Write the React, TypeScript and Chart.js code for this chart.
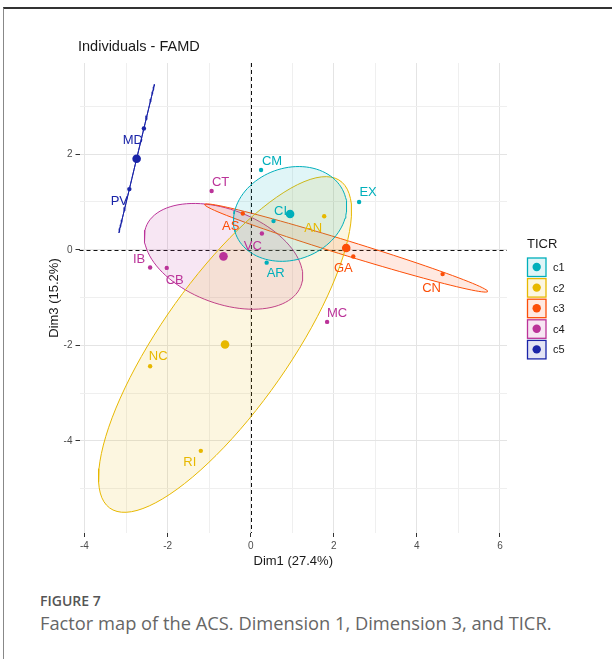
import React, { useEffect, useRef } from 'react';
import { Chart, registerables } from 'chart.js';

Chart.register(...registerables);

// ---------- data ----------
const groups = ['c1', 'c2', 'c3', 'c4', 'c5'];
const groupColors = ['#00AFBB', '#E7B800', '#FC4E07', '#BB3399', '#1A24A8'];

const individuals = ['CM', 'EX', 'AR', 'CI', 'AN', 'NC', 'RI', 'AS', 'GA', 'CN', 'CT', 'VC', 'IB', 'CB', 'MC', 'MD', 'PV'];
const dim1 = [0.25, 2.61, 0.385, 0.55, 1.77, -2.42, -1.2, -0.19, 2.47, 4.62, -0.94, 0.27, -2.42, -2.02, 1.84, -2.57, -2.92];
const dim3 = [1.67, 1.0, -0.27, 0.6, 0.7, -2.44, -4.21, 0.76, -0.14, -0.51, 1.23, 0.34, -0.37, -0.38, -1.51, 2.54, 1.27];
const ticr = ['c1', 'c1', 'c1', 'c1', 'c2', 'c2', 'c2', 'c3', 'c3', 'c3', 'c4', 'c4', 'c4', 'c4', 'c4', 'c5', 'c5'];

const xTicks = [-4, -3, -2, -1, 0, 1, 2, 3, 4, 5, 6];
const yTicks = [-5, -4, -3, -2, -1, 0, 1, 2, 3];

const chartTitle = 'Individuals - FAMD';
const xTitle = 'Dim1 (27.4%)';
const yTitle = 'Dim3 (15.2%)';
const legendTitle = 'TICR';
const figureLabel = 'FIGURE 7';
const captionText = 'Factor map of the ACS. Dimension 1, Dimension 3, and TICR.';

// ---------- label placement (pixel offsets, style only) ----------
const labelOffsets: Record<string, [number, number]> = {
  CM: [11, -9], EX: [9, -10], AR: [9, 11], CI: [7, -10], AN: [-11, 12], NC: [8, -10], RI: [-11, 12],
  AS: [-12, 13], GA: [-10, 12], CN: [-11, 14], CT: [9, -9], VC: [-9, 13], IB: [-11, -8], CB: [8, 13],
  MC: [10, -8], MD: [-11, 12], PV: [-10, 12],
};

const FONT = "'Liberation Sans', Arial, sans-serif";

function hexA(hex: string, a: number) {
  const n = parseInt(hex.slice(1), 16);
  return `rgba(${(n >> 16) & 255},${(n >> 8) & 255},${n & 255},${a})`;
}

function mean(a: number[]) {
  return a.reduce((s, v) => s + v, 0) / a.length;
}

// confidence ellipse (as in ggpubr stat_conf_ellipse)
function confEllipse(xs: number[], ys: number[], level = 0.95, npoints = 100) {
  const m = xs.length;
  const cx = mean(xs);
  const cy = mean(ys);
  let vx = 0, vy = 0, cxy = 0;
  for (let i = 0; i < m; i++) {
    vx += (xs[i] - cx) ** 2;
    vy += (ys[i] - cy) ** 2;
    cxy += (xs[i] - cx) * (ys[i] - cy);
  }
  vx /= m - 1; vy /= m - 1; cxy /= m - 1;
  const sx = Math.sqrt(vx);
  const sy = Math.sqrt(vy);
  let r = cxy / (sx * sy);
  r = Math.min(Math.max(r, -1), 1);
  const d = Math.acos(r);
  const chi2 = -2 * Math.log(1 - level);
  const t = Math.sqrt(chi2 / m);
  const pts: { x: number; y: number }[] = [];
  for (let i = 0; i < npoints; i++) {
    const a = (2 * Math.PI * i) / (npoints - 1);
    pts.push({ x: t * sx * Math.cos(a + d / 2) + cx, y: t * sy * Math.cos(a - d / 2) + cy });
  }
  return pts;
}

const isEven = (v: number) => Math.abs(Math.round(v)) % 2 === 0;

export default function App() {
  const ref = useRef<HTMLCanvasElement | null>(null);

  useEffect(() => {
    if (!ref.current) return;
    const datasets: any[] = [];
    groups.forEach((g, gi) => {
      const color = groupColors[gi];
      const idx = ticr.map((t, i) => (t === g ? i : -1)).filter((i) => i >= 0);
      const xs = idx.map((i) => dim1[i]);
      const ys = idx.map((i) => dim3[i]);
      datasets.push({
        label: g + ' mean',
        data: [{ x: mean(xs), y: mean(ys) }],
        pointRadius: 4.3,
        backgroundColor: color,
        borderColor: color,
        borderWidth: 0,
        order: 0,
      });
      datasets.push({
        label: g,
        data: idx.map((i) => ({ x: dim1[i], y: dim3[i], name: individuals[i] })),
        pointRadius: 2.2,
        backgroundColor: color,
        borderColor: color,
        borderWidth: 0,
        order: 1,
      });
      datasets.push({
        label: g + ' ellipse',
        data: confEllipse(xs, ys),
        showLine: true,
        fill: 'shape',
        tension: 0,
        backgroundColor: hexA(color, 0.12),
        borderColor: color,
        borderWidth: 1,
        pointRadius: 0,
        order: 2,
      });
    });

    const annot = {
      id: 'annot',
      beforeDatasetsDraw(chart: any) {
        const { ctx, chartArea, scales } = chart;
        const x0 = Math.round(scales.x.getPixelForValue(0)) + 0.5;
        const y0 = Math.round(scales.y.getPixelForValue(0)) + 0.5;
        ctx.save();
        ctx.strokeStyle = '#111';
        ctx.lineWidth = 1;
        ctx.setLineDash([4, 3]);
        ctx.beginPath();
        ctx.moveTo(x0, chartArea.top);
        ctx.lineTo(x0, chartArea.bottom);
        ctx.moveTo(chartArea.left, y0);
        ctx.lineTo(chartArea.right, y0);
        ctx.stroke();
        ctx.restore();
      },
      afterDatasetsDraw(chart: any) {
        const { ctx, scales } = chart;
        ctx.save();
        ctx.font = `13px ${FONT}`;
        ctx.textAlign = 'center';
        ctx.textBaseline = 'middle';
        individuals.forEach((name, i) => {
          const gi = groups.indexOf(ticr[i]);
          const off = labelOffsets[name] || [0, -10];
          const px = scales.x.getPixelForValue(dim1[i]) + off[0];
          const py = scales.y.getPixelForValue(dim3[i]) + off[1];
          ctx.fillStyle = groupColors[gi];
          ctx.fillText(name, px, py);
        });
        ctx.restore();
      },
      afterDraw(chart: any) {
        const { ctx } = chart;
        ctx.save();
        ctx.fillStyle = '#1a1a1a';
        ctx.font = `14.5px ${FONT}`;
        ctx.textAlign = 'left';
        ctx.textBaseline = 'middle';
        ctx.fillText(chartTitle, 78, 47);
        // legend
        ctx.font = `13px ${FONT}`;
        ctx.fillText(legendTitle, 527, 244);
        groups.forEach((g, gi) => {
          const top = 258 + gi * 20.6;
          const color = groupColors[gi];
          ctx.fillStyle = hexA(color, 0.12);
          ctx.fillRect(527.5, top, 18.5, 18.5);
          ctx.strokeStyle = color;
          ctx.lineWidth = 1.3;
          ctx.strokeRect(527.5, top, 18.5, 18.5);
          ctx.fillStyle = color;
          ctx.beginPath();
          ctx.arc(536.7, top + 9, 4.2, 0, Math.PI * 2);
          ctx.fill();
          ctx.fillStyle = '#1a1a1a';
          ctx.font = `11px ${FONT}`;
          ctx.fillText(g, 553, top + 10);
        });
        ctx.restore();
      },
    };

    const gridColor = (c: any) => (c.tick && isEven(c.tick.value) ? '#E4E4E4' : '#EFEFEF');
    const tickColor = (c: any) => (c.tick && isEven(c.tick.value) ? '#333333' : 'rgba(0,0,0,0)');
    const tickLabel = (v: any) => (isEven(Number(v)) ? String(v) : '');

    const chart = new Chart(ref.current, {
      type: 'scatter',
      data: { datasets },
      plugins: [annot],
      options: {
        animation: false,
        responsive: false,
        devicePixelRatio: 1,
        events: [],
        layout: { padding: { top: 63, right: 105, left: 0, bottom: 0 } },
        plugins: { legend: { display: false }, tooltip: { enabled: false }, title: { display: false } },
        scales: {
          x: {
            type: 'linear',
            min: -4.12,
            max: 6.17,
            afterBuildTicks: (s: any) => { s.ticks = xTicks.map((v) => ({ value: v })); },
            afterFit: (s: any) => { s.height = 47; },
            border: { display: false },
            grid: { color: gridColor, lineWidth: 1, tickColor, tickLength: 4, drawTicks: true },
            ticks: { callback: tickLabel, color: '#4D4D4D', font: { size: 10, family: FONT }, padding: 3, maxRotation: 0, autoSkip: false },
            title: { display: true, text: xTitle, color: '#1a1a1a', font: { size: 13, family: FONT, lineHeight: 1.2 }, padding: { top: 0, bottom: 11 } },
          },
          y: {
            type: 'linear',
            min: -5.93,
            max: 3.91,
            afterBuildTicks: (s: any) => { s.ticks = yTicks.map((v) => ({ value: v })); },
            afterFit: (s: any) => { s.width = 79.5; },
            border: { display: false },
            grid: { color: gridColor, lineWidth: 1, tickColor, tickLength: 4, drawTicks: true },
            ticks: { callback: tickLabel, color: '#4D4D4D', font: { size: 10, family: FONT }, padding: 3, autoSkip: false },
            title: { display: true, text: yTitle, color: '#1a1a1a', font: { size: 13, family: FONT, lineHeight: 1.2 }, padding: { top: 47, bottom: 0 } },
          },
        },
      } as any,
    });
    return () => chart.destroy();
  }, []);

  return (
    <div style={{ position: 'fixed', left: 0, top: 0, width: 612, height: 659, background: '#fff', overflow: 'hidden' }}>
      <div style={{ position: 'absolute', left: 3, top: 7, width: 620, height: 670, borderTop: '2px solid #333', borderLeft: '1px solid #888', boxSizing: 'border-box' }} />
      <canvas ref={ref} width={612} height={580} style={{ position: 'absolute', left: 0, top: 0, width: 612, height: 580 }} />
      <div style={{ position: 'absolute', left: 40, top: 592, fontFamily: "'Open Sans', sans-serif", fontWeight: 600, fontSize: 14, color: '#555', lineHeight: '18px' }}>{figureLabel}</div>
      <div style={{ position: 'absolute', left: 40, top: 611, fontFamily: "'Open Sans', sans-serif", fontWeight: 400, fontSize: 18.3, color: '#666', lineHeight: '24px', whiteSpace: 'nowrap' }}>{captionText}</div>
    </div>
  );
}
